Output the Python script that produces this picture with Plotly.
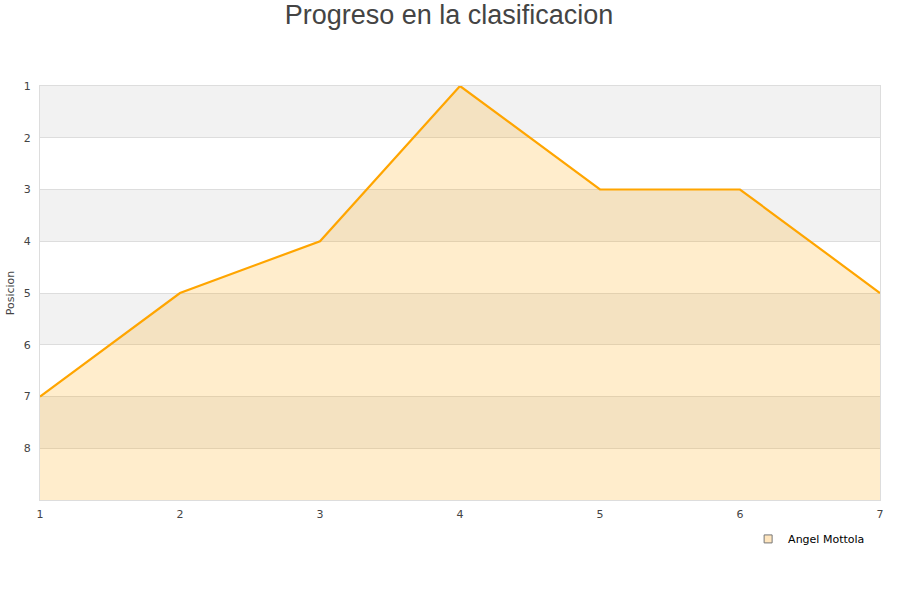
import plotly.graph_objects as go

jornadas = [1, 2, 3, 4, 5, 6, 7]
posiciones = [7, 5, 4, 1, 3, 3, 5]
player = "Angel Mottola"
y_ticks = [1, 2, 3, 4, 5, 6, 7, 8]
band_starts = [1, 3, 5, 7]
y_bottom = 9

fig = go.Figure()

# baseline for fill
fig.add_trace(go.Scatter(x=jornadas, y=[y_bottom] * len(jornadas), mode="lines",
                         line=dict(width=0), showlegend=False, hoverinfo="skip"))
fig.add_trace(go.Scatter(x=jornadas, y=posiciones, mode="lines", fill="tonexty",
                         fillcolor="rgba(255,165,0,0.2)",
                         line=dict(color="#FFA500", width=2.2),
                         showlegend=False, name=player))
# legend entry
fig.add_trace(go.Scatter(x=[None], y=[None], mode="markers", name=player,
                         marker=dict(symbol="square", size=8, color="#FFE6BF",
                                     line=dict(color="#777", width=1))))

for b in band_starts:
    fig.add_shape(type="rect", xref="paper", yref="y", x0=0, x1=1, y0=b, y1=b + 1,
                  fillcolor="#F2F2F2", line=dict(width=0), layer="below")

fig.update_layout(
    width=900, height=600,
    paper_bgcolor="white", plot_bgcolor="white",
    margin=dict(l=40, r=20, t=86, b=100, autoexpand=False),
    title=dict(text="Progreso en la clasificacion", x=0.4989, xanchor="center",
               y=0.975, yanchor="middle",
               font=dict(family="Liberation Sans, Arial", size=27, color="#444")),
    font=dict(family="DejaVu Sans", size=11, color="#444"),
    legend=dict(x=0.843, y=-0.094, xanchor="left", yanchor="middle",
                font=dict(size=11, color="#000"), bgcolor="rgba(0,0,0,0)"),
    xaxis=dict(range=[1, 7], tickvals=jornadas, showgrid=False, zeroline=False,
               showline=True, linecolor="#DDD", mirror=True, ticks="",
               automargin=False, ticklabelstandoff=4,
               tickfont=dict(size=11, color="#444")),
    yaxis=dict(range=[y_bottom, 1], tickvals=y_ticks, showgrid=True,
               gridcolor="#DDD", zeroline=False, showline=True, linecolor="#DDD",
               mirror=True, ticks="", automargin=False, ticklabelstandoff=6,
               title=dict(text="Posicion", standoff=6,
                          font=dict(size=11, color="#444")),
               tickfont=dict(size=11, color="#444")),
)

fig.write_html("out.html", config={"displayModeBar": False},
               post_script="document.body.style.margin='0';document.body.style.padding='0';")
